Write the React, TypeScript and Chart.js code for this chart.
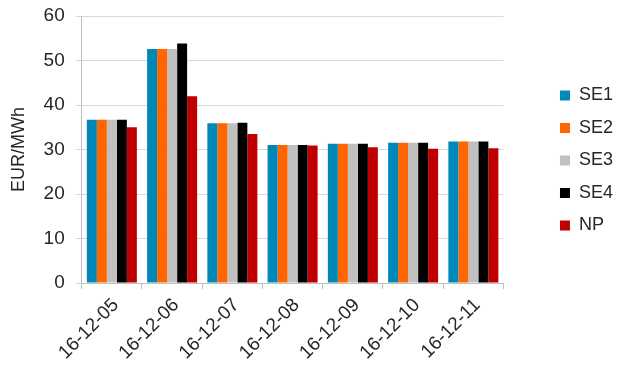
import React, { useEffect, useRef } from "react";
import { Chart, registerables } from "chart.js";

Chart.register(...registerables);

const days = ["16-12-05", "16-12-06", "16-12-07", "16-12-08", "16-12-09", "16-12-10", "16-12-11"];
const se1 = [36.7, 52.6, 35.9, 31.0, 31.3, 31.5, 31.8];
const se2 = [36.7, 52.6, 35.9, 31.0, 31.3, 31.5, 31.8];
const se3 = [36.7, 52.6, 35.9, 31.0, 31.3, 31.5, 31.8];
const se4 = [36.7, 53.8, 36.0, 31.0, 31.3, 31.5, 31.8];
const np = [35.0, 42.0, 33.5, 30.9, 30.5, 30.2, 30.3];

const FONT = "'Liberation Sans', Arial, sans-serif";
const TEXT = "#262626";

export default function App() {
  const ref = useRef<HTMLCanvasElement | null>(null);

  useEffect(() => {
    if (!ref.current) return;
    const mk = (label: string, data: number[], color: string) => ({
      label,
      data,
      backgroundColor: color,
      borderWidth: 0,
      categoryPercentage: 0.83,
      barPercentage: 1.0,
    });
    const chart = new Chart(ref.current, {
      type: "bar",
      data: {
        labels: days,
        datasets: [
          mk("SE1", se1, "#0089B8"),
          mk("SE2", se2, "#FF6600"),
          mk("SE3", se3, "#C0C0C0"),
          mk("SE4", se4, "#000000"),
          mk("NP", np, "#C00000"),
        ],
      },
      options: {
        responsive: false,
        animation: false,
        layout: { padding: { top: 0, right: -5, left: 5, bottom: 0 } },
        plugins: {
          tooltip: { enabled: false },
          legend: {
            position: "right",
            align: "start",
            title: { display: true, text: " ", font: { size: 10 }, padding: { top: 60, bottom: 0 } },
            labels: {
              boxWidth: 10,
              boxHeight: 10,
              padding: 14.5,
              color: TEXT,
              font: { family: FONT, size: 18 },
            },
          },
        },
        scales: {
          x: {
            offset: true,
            grid: {
              offset: true,
              drawOnChartArea: false,
              drawTicks: true,
              tickLength: 6,
              color: "#BFBFBF",
            },
            border: { color: "#BFBFBF" },
            ticks: {
              color: TEXT,
              font: { family: FONT, size: 19 },
              maxRotation: 45,
              minRotation: 45,
              padding: 5,
              labelOffset: 4,
            },
          },
          y: {
            min: 0,
            max: 60,
            afterFit: (s: any) => {
              s.paddingTop = 16;
            },
            ticks: {
              stepSize: 10,
              color: TEXT,
              font: { family: FONT, size: 19 },
              padding: 11,
            },
            grid: { color: "#D9D9D9", tickLength: 6 },
            border: { color: "#BFBFBF" },
            title: {
              display: true,
              text: "EUR/MWh",
              color: TEXT,
              font: { family: FONT, size: 18 },
              padding: 3,
            },
          },
          // empty spacer between the plot and the legend
          gap: {
            type: "linear",
            position: "right",
            display: true,
            grid: { display: false },
            border: { display: false },
            ticks: { display: false },
            afterFit: (s: any) => {
              s.width = 42;
            },
          },
        },
      },
    });
    return () => chart.destroy();
  }, []);

  return (
    <div style={{ position: "absolute", left: 0, top: 0, width: 618, height: 369, background: "#fff" }}>
      <canvas ref={ref} width={618} height={369} />
    </div>
  );
}
